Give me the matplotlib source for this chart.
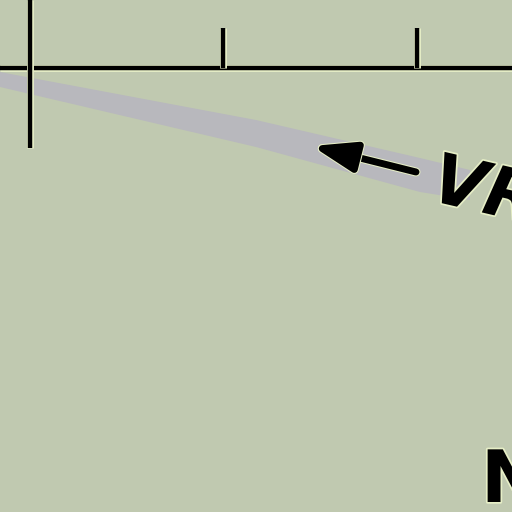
import matplotlib.pyplot as plt
import matplotlib.patheffects as pe

# diagram pieces (pixel-like units, y grows downward)
axis_y = 68
axis_x = [0, 512]
tick_x = [30, 223, 417]
tick_top = [0, 28, 28]
tick_bottom = [148, 68, 68]
band_x = [0, 256, 420, 470, 470, 420, 256, 0]
band_y = [72, 120, 158, 170, 200, 192, 147, 87]
arrow_tail = (416, 172)
arrow_head = (312, 146)
labels = ["VR", "N"]

bg = "#c0c9b0"
halo = [pe.withStroke(linewidth=5, foreground="#e6eec6")]
text_halo = [pe.withStroke(linewidth=2.5, foreground="#e6eec6")]

fig = plt.figure(figsize=(5.12, 5.12), dpi=100, facecolor=bg)
ax = fig.add_axes([0, 0, 1, 1])
ax.set_facecolor(bg)
ax.set_xlim(0, 512)
ax.set_ylim(512, 0)
ax.axis("off")

# gray band
ax.fill(band_x, band_y, color="#b8b8bd", lw=0, zorder=1)

# horizontal axis and ticks
ax.plot(axis_x, [axis_y, axis_y], color="black", lw=3.2, zorder=3,
        solid_capstyle="butt", path_effects=halo)
for x, t, b in zip(tick_x, tick_top, tick_bottom):
    ax.plot([x, x], [t, b], color="black", lw=3.2, zorder=3,
            solid_capstyle="butt", path_effects=halo)

# arrow
ax.annotate("", xy=arrow_head, xytext=arrow_tail,
            arrowprops=dict(arrowstyle="-|>,head_length=2.6,head_width=0.9",
                            color="black", lw=5, shrinkA=0, shrinkB=0,
                            path_effects=[pe.withStroke(linewidth=6.5, foreground="#e6eec6")]),
            zorder=4)

ax.text(428, 200, labels[0], fontsize=50, fontweight="bold", fontstyle="italic",
        rotation=-13, rotation_mode="anchor", ha="left", va="baseline",
        color="black", zorder=5, path_effects=text_halo)
ax.text(481, 502, labels[1], fontsize=52, fontweight="bold",
        ha="left", va="baseline", color="black", zorder=5, path_effects=text_halo)

fig.savefig("out.png", dpi=100, facecolor=bg)
